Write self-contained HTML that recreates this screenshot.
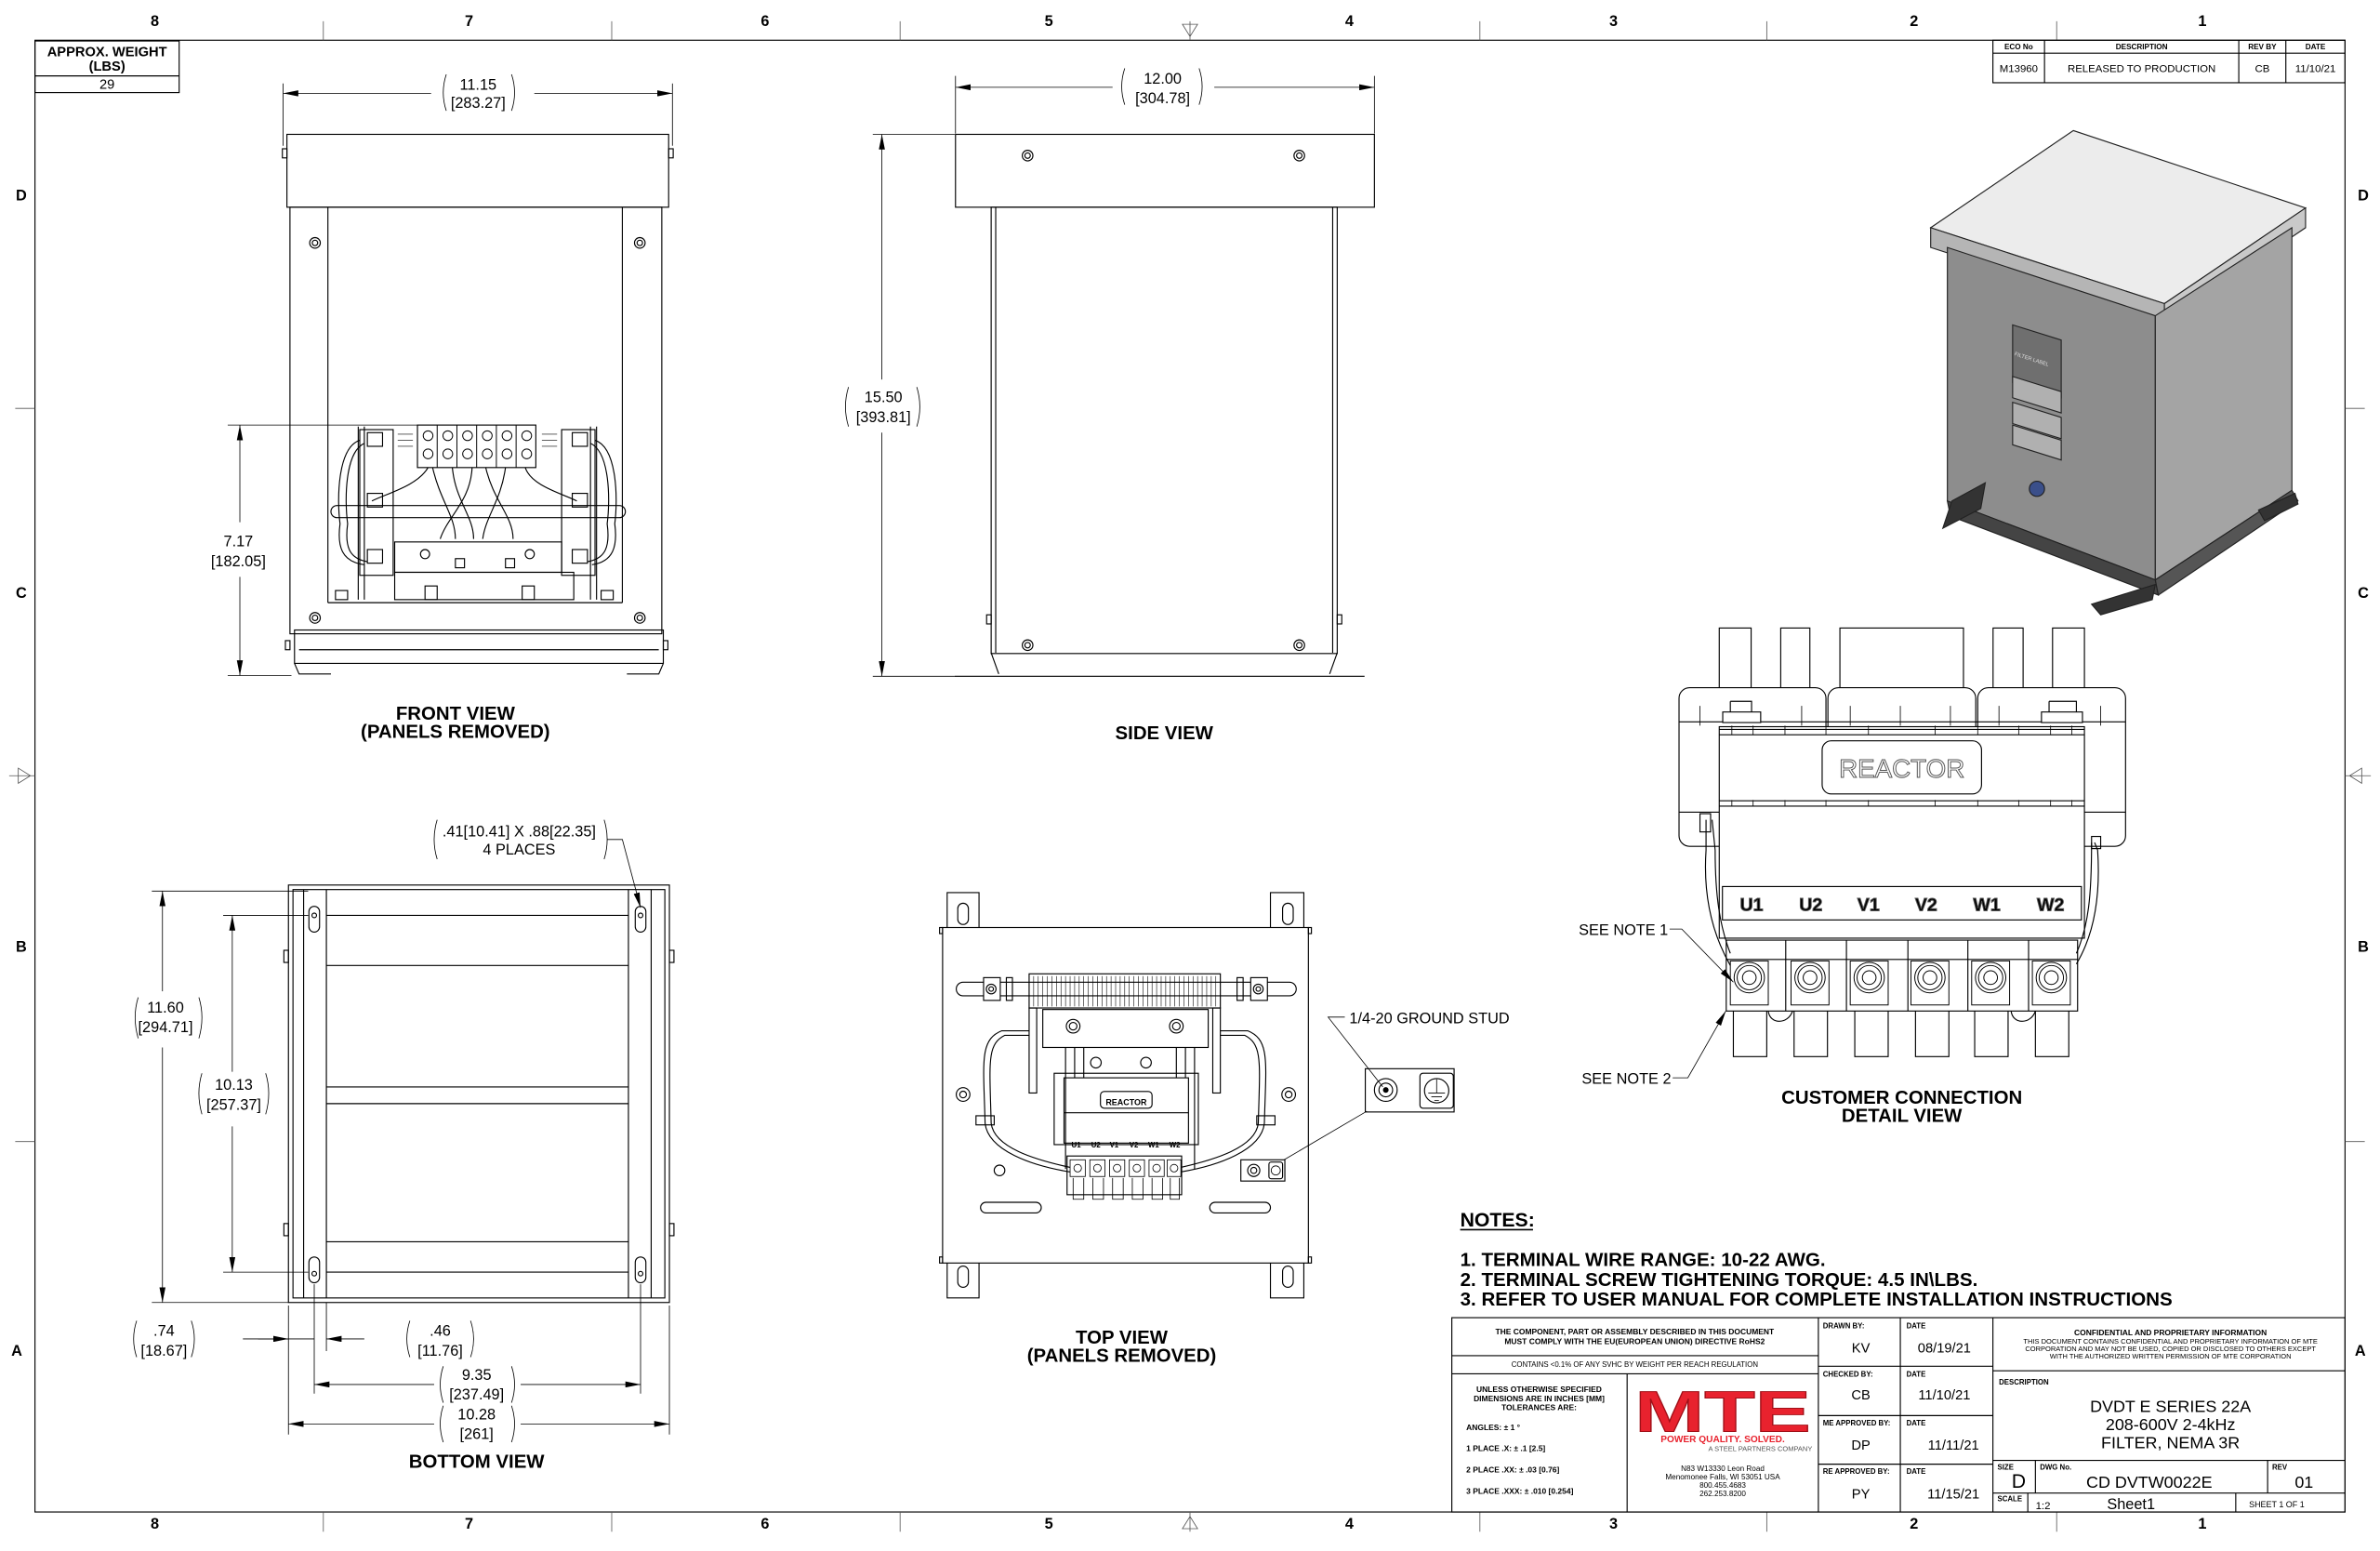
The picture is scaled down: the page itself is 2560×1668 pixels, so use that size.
<!DOCTYPE html>
<html><head><meta charset="utf-8"><style>
html,body{margin:0;padding:0;background:#fff;}
svg{display:block;}
text{font-family:"Liberation Sans",Arial,sans-serif;fill:#000;}
.b{font-weight:bold;}
</style></head><body>
<svg width="2560" height="1668" viewBox="0 0 1568 1021.7" xmlns="http://www.w3.org/2000/svg">
<defs>
<marker id="ar" viewBox="0 0 10 4" refX="10" refY="2" markerWidth="10" markerHeight="4" orient="auto-start-reverse" markerUnits="userSpaceOnUse"><path d="M0,0 L10,2 L0,4z" fill="#000"/></marker>
</defs>
<rect width="1568" height="1021.7" fill="#fff"/>
<g fill="none" stroke="#000" stroke-width="0.7">
<rect x="23" y="26.5" width="1522" height="969.5"/>
<g stroke-width="0.5" stroke="#555">
<line x1="213" y1="14" x2="213" y2="26.5"/><line x1="403" y1="14" x2="403" y2="26.5"/><line x1="593" y1="14" x2="593" y2="26.5"/><line x1="975" y1="14" x2="975" y2="26.5"/><line x1="1164" y1="14" x2="1164" y2="26.5"/><line x1="1355" y1="14" x2="1355" y2="26.5"/>
<line x1="213" y1="996" x2="213" y2="1009"/><line x1="403" y1="996" x2="403" y2="1009"/><line x1="593" y1="996" x2="593" y2="1009"/><line x1="975" y1="996" x2="975" y2="1009"/><line x1="1164" y1="996" x2="1164" y2="1009"/><line x1="1355" y1="996" x2="1355" y2="1009"/>
<line x1="10" y1="269" x2="23" y2="269"/><line x1="10" y1="752" x2="23" y2="752"/><line x1="1545" y1="269" x2="1558" y2="269"/><line x1="1545" y1="752" x2="1558" y2="752"/>
<path d="M779,16 L789,16 L784,24z M784,14 V26"/><path d="M779,1007 L789,1007 L784,999z M784,996 V1009"/>
<path d="M12,506 L12,516 L20,511z M6,511 H23"/><path d="M1556,506 L1556,516 L1548,511z M1545,511 H1562"/>
</g>
<rect x="23" y="27" width="95" height="34"/><line x1="23" y1="50" x2="118" y2="50"/>
<rect x="1313" y="26.5" width="232" height="28"/><line x1="1313" y1="35" x2="1545" y2="35"/>
<line x1="1347" y1="26.5" x2="1347" y2="54.5"/><line x1="1475" y1="26.5" x2="1475" y2="54.5"/><line x1="1506" y1="26.5" x2="1506" y2="54.5"/>

<!-- FRONT VIEW -->
<rect x="189" y="88.5" width="251.5" height="48"/>
<rect x="186" y="98" width="3" height="6"/><rect x="440.5" y="98" width="3" height="6"/>
<rect x="191" y="136.5" width="245" height="281"/>
<line x1="216" y1="136.5" x2="216" y2="397"/><line x1="410" y1="136.5" x2="410" y2="397"/><line x1="216" y1="397" x2="410" y2="397"/>
<circle cx="207.5" cy="160" r="3.5"/><circle cx="207.5" cy="160" r="1.8"/><circle cx="421.5" cy="160" r="3.5"/><circle cx="421.5" cy="160" r="1.8"/>
<circle cx="207.5" cy="407" r="3.5"/><circle cx="207.5" cy="407" r="1.8"/><circle cx="421.5" cy="407" r="3.5"/><circle cx="421.5" cy="407" r="1.8"/>
<rect x="194" y="415" width="243" height="22"/><line x1="197" y1="428" x2="434" y2="428"/>
<path d="M194,437 L197,444 H218 M437,437 L434,444 H413"/>
<rect x="188" y="422" width="3" height="6"/><rect x="437" y="422" width="3" height="6"/>
<rect x="275" y="280" width="78" height="28"/>
<g stroke-width="0.6">
<circle cx="282" cy="287" r="3.2"/><circle cx="295" cy="287" r="3.2"/><circle cx="308" cy="287" r="3.2"/><circle cx="321" cy="287" r="3.2"/><circle cx="334" cy="287" r="3.2"/><circle cx="347" cy="287" r="3.2"/>
<circle cx="282" cy="299" r="3.2"/><circle cx="295" cy="299" r="3.2"/><circle cx="308" cy="299" r="3.2"/><circle cx="321" cy="299" r="3.2"/><circle cx="334" cy="299" r="3.2"/><circle cx="347" cy="299" r="3.2"/>
<line x1="288" y1="280" x2="288" y2="308"/><line x1="301" y1="280" x2="301" y2="308"/><line x1="314" y1="280" x2="314" y2="308"/><line x1="327" y1="280" x2="327" y2="308"/><line x1="340" y1="280" x2="340" y2="308"/>
</g>
<rect x="237" y="283" width="22" height="96"/><rect x="370" y="283" width="22" height="96"/>
<line x1="236" y1="281" x2="236" y2="395"/><line x1="240" y1="281" x2="240" y2="395"/><line x1="389" y1="281" x2="389" y2="395"/><line x1="393" y1="281" x2="393" y2="395"/>
<rect x="242" y="285" width="10" height="9"/><rect x="242" y="325" width="10" height="9"/><rect x="242" y="362" width="10" height="9"/>
<rect x="377" y="285" width="10" height="9"/><rect x="377" y="325" width="10" height="9"/><rect x="377" y="362" width="10" height="9"/>
<g stroke-width="0.4">
<line x1="262" y1="286" x2="272" y2="286"/><line x1="262" y1="290" x2="272" y2="290"/><line x1="262" y1="294" x2="272" y2="294"/><line x1="357" y1="286" x2="367" y2="286"/><line x1="357" y1="290" x2="367" y2="290"/><line x1="357" y1="294" x2="367" y2="294"/>
</g>
<rect x="218" y="333" width="194" height="8" rx="4"/>
<rect x="260" y="357" width="110" height="20"/><rect x="260" y="377" width="118" height="18"/>
<circle cx="280" cy="365" r="3"/><circle cx="349" cy="365" r="3"/>
<rect x="300" y="368" width="6" height="6"/><rect x="333" y="368" width="6" height="6"/>
<rect x="221" y="389" width="8" height="6"/><rect x="396" y="389" width="8" height="6"/>
<rect x="280" y="386" width="8" height="9"/><rect x="344" y="386" width="8" height="9"/>
<path d="M237,290 C222,295 222,330 224,345 C222,360 225,370 240,372"/>
<path d="M240,292 C227,298 227,330 229,345 C227,360 230,368 242,370"/>
<path d="M392,290 C407,295 407,330 405,345 C407,360 404,370 390,372"/>
<path d="M389,292 C402,298 402,330 400,345 C402,360 399,368 387,370"/>
<path d="M285,308 C290,330 300,340 300,355"/><path d="M298,308 C300,330 312,340 312,355"/><path d="M311,308 C310,330 295,340 290,355"/>
<path d="M320,308 C325,330 338,340 338,355"/><path d="M333,308 C330,330 320,340 318,355"/><path d="M346,308 C350,320 370,325 380,330"/>
<path d="M282,308 C275,320 255,325 245,330"/>
<g stroke-width="0.5">
<line x1="186.5" y1="55" x2="186.5" y2="96"/><line x1="443" y1="55" x2="443" y2="96"/>
<line x1="186.5" y1="61.5" x2="284" y2="61.5" marker-start="url(#ar)"/><line x1="352" y1="61.5" x2="443" y2="61.5" marker-end="url(#ar)"/>
<line x1="150" y1="280" x2="275" y2="280"/><line x1="150" y1="445" x2="192" y2="445"/>
<line x1="158" y1="280" x2="158" y2="344" marker-start="url(#ar)"/><line x1="158" y1="380" x2="158" y2="445" marker-end="url(#ar)"/>
</g>

<!-- SIDE VIEW -->
<rect x="629.5" y="88.5" width="276" height="48"/>
<rect x="653" y="136.5" width="228" height="294"/>
<line x1="656" y1="136.5" x2="656" y2="430"/><line x1="878" y1="136.5" x2="878" y2="430"/>
<circle cx="677" cy="102.5" r="3.5"/><circle cx="677" cy="102.5" r="1.8"/><circle cx="856" cy="102.5" r="3.5"/><circle cx="856" cy="102.5" r="1.8"/>
<circle cx="677" cy="425" r="3.5"/><circle cx="677" cy="425" r="1.8"/><circle cx="856" cy="425" r="3.5"/><circle cx="856" cy="425" r="1.8"/>
<rect x="650" y="405" width="3" height="6"/><rect x="881" y="405" width="3" height="6"/>
<path d="M653,430 L658,444 M881,430 L876,444"/>
<line x1="629" y1="445.5" x2="899" y2="445.5"/>
<g stroke-width="0.5">
<line x1="629.5" y1="50" x2="629.5" y2="88"/><line x1="905.5" y1="50" x2="905.5" y2="88"/>
<line x1="629.5" y1="57.5" x2="733" y2="57.5" marker-start="url(#ar)"/><line x1="800" y1="57.5" x2="905.5" y2="57.5" marker-end="url(#ar)"/>
<line x1="575" y1="88.5" x2="629" y2="88.5"/><line x1="575" y1="445.5" x2="629" y2="445.5"/>
<line x1="581" y1="88.5" x2="581" y2="250" marker-start="url(#ar)"/><line x1="581" y1="285" x2="581" y2="445.5" marker-end="url(#ar)"/>
</g>

<!-- BOTTOM VIEW -->
<rect x="190" y="583" width="251" height="275"/>
<rect x="193" y="586" width="245" height="269"/>
<line x1="200" y1="586" x2="200" y2="855"/><line x1="215" y1="586" x2="215" y2="855"/><line x1="414" y1="586" x2="414" y2="855"/><line x1="429" y1="586" x2="429" y2="855"/>
<line x1="215" y1="603" x2="414" y2="603"/><line x1="215" y1="636" x2="414" y2="636"/><line x1="215" y1="716" x2="414" y2="716"/><line x1="215" y1="727" x2="414" y2="727"/><line x1="215" y1="818" x2="414" y2="818"/><line x1="215" y1="838" x2="414" y2="838"/>
<rect x="203.5" y="597" width="7" height="17" rx="3.5"/><rect x="418.5" y="597" width="7" height="17" rx="3.5"/>
<rect x="203.5" y="828" width="7" height="17" rx="3.5"/><rect x="418.5" y="828" width="7" height="17" rx="3.5"/>
<circle cx="207" cy="603" r="1.5"/><circle cx="422" cy="603" r="1.5"/><circle cx="207" cy="839" r="1.5"/><circle cx="422" cy="839" r="1.5"/>
<rect x="187" y="626" width="3" height="8"/><rect x="441" y="626" width="3" height="8"/><rect x="187" y="806" width="3" height="8"/><rect x="441" y="806" width="3" height="8"/>
<g stroke-width="0.5">
<line x1="100" y1="587" x2="203" y2="587"/><line x1="100" y1="858" x2="190" y2="858"/>
<line x1="107" y1="587" x2="107" y2="653" marker-start="url(#ar)"/><line x1="107" y1="690" x2="107" y2="858" marker-end="url(#ar)"/>
<line x1="147" y1="603" x2="203" y2="603"/><line x1="147" y1="838" x2="203" y2="838"/>
<line x1="153" y1="603" x2="153" y2="706" marker-start="url(#ar)"/><line x1="153" y1="742" x2="153" y2="838" marker-end="url(#ar)"/>
<line x1="190" y1="860" x2="190" y2="945"/><line x1="207" y1="846" x2="207" y2="918"/><line x1="215" y1="858" x2="215" y2="890"/><line x1="422" y1="846" x2="422" y2="918"/><line x1="441" y1="860" x2="441" y2="945"/>
<line x1="160" y1="882" x2="190" y2="882" marker-end="url(#ar)"/><line x1="240" y1="882" x2="215" y2="882" marker-end="url(#ar)"/><line x1="170" y1="882" x2="207" y2="882"/>
<line x1="207" y1="912" x2="286" y2="912" marker-start="url(#ar)"/><line x1="343" y1="912" x2="422" y2="912" marker-end="url(#ar)"/>
<line x1="190" y1="938" x2="286" y2="938" marker-start="url(#ar)"/><line x1="343" y1="938" x2="441" y2="938" marker-end="url(#ar)"/>
<path d="M400,553 L410,553 L422,598" marker-end="url(#ar)"/>
</g>
<g stroke-width="0.5">
<path d="M270,870 Q266,882 270,894 M310,870 Q314,882 310,894"/>
<path d="M292,900 Q288,912 292,924 M337,900 Q341,912 337,924"/>
<path d="M292,926 Q288,938 292,950 M337,926 Q341,938 337,950"/>
<path d="M91,657 Q87,670 91,684 M131,657 Q135,670 131,684"/>
<path d="M133,707 Q129,720 133,734 M175,707 Q179,720 175,734"/>
<path d="M90,870 Q86,882 90,894 M126,870 Q130,882 126,894"/>
<path d="M294,49 Q290,61 294,73 M337,49 Q341,61 337,73"/>
<path d="M741,45 Q737,57 741,69 M790,45 Q794,57 790,69"/>
<path d="M559,255 Q555,268 559,281 M604,255 Q608,268 604,281"/>
<path d="M288,540 Q284,553 288,566 M398,540 Q402,553 398,566"/>
</g>

<!-- TOP VIEW -->
<rect x="621" y="611" width="241" height="221"/>
<rect x="619" y="611" width="2" height="4"/><rect x="862" y="611" width="2" height="4"/><rect x="619" y="828" width="2" height="4"/><rect x="862" y="828" width="2" height="4"/>
<path d="M624,611 V588 H645 V611 M837,611 V588 H859 V611 M624,832 V855 H645 V832 M837,832 V855 H859 V832"/>
<rect x="631" y="595" width="7" height="14" rx="3.5"/><rect x="845" y="595" width="7" height="14" rx="3.5"/>
<rect x="631" y="834" width="7" height="14" rx="3.5"/><rect x="845" y="834" width="7" height="14" rx="3.5"/>
<rect x="678" y="641.5" width="126" height="22.5"/>
<g stroke-width="0.35"><path d="M681,643 V663 M684,643 V663 M687,643 V663 M690,643 V663 M693,643 V663 M696,643 V663 M699,643 V663 M702,643 V663 M705,643 V663 M708,643 V663 M711,643 V663 M714,643 V663 M717,643 V663 M720,643 V663 M723,643 V663 M726,643 V663 M729,643 V663 M732,643 V663 M735,643 V663 M738,643 V663 M741,643 V663 M744,643 V663 M747,643 V663 M750,643 V663 M753,643 V663 M756,643 V663 M759,643 V663 M762,643 V663 M765,643 V663 M768,643 V663 M771,643 V663 M774,643 V663 M777,643 V663 M780,643 V663 M783,643 V663 M786,643 V663 M789,643 V663 M792,643 V663 M795,643 V663 M798,643 V663 M801,643 V663"/></g>
<rect x="630" y="647" width="224" height="9" rx="4.5"/>
<rect x="648" y="644" width="11" height="15" fill="#fff"/><circle cx="653" cy="651.5" r="3.2"/><circle cx="653" cy="651.5" r="1.5"/>
<rect x="824" y="644" width="11" height="15" fill="#fff"/><circle cx="829" cy="651.5" r="3.2"/><circle cx="829" cy="651.5" r="1.5"/>
<rect x="663" y="644" width="4" height="15"/><rect x="815" y="644" width="4" height="15"/>
<rect x="687" y="665" width="109" height="25"/>
<rect x="678" y="664" width="5" height="56"/><rect x="799" y="664" width="5" height="56"/>
<circle cx="707" cy="676" r="4.5"/><circle cx="707" cy="676" r="2.5"/><circle cx="775" cy="676" r="4.5"/><circle cx="775" cy="676" r="2.5"/>
<path d="M702,690 V770 M708,690 V710 M714,690 V710 M775,690 V710 M781,690 V710 M787,690 V770"/>
<circle cx="722" cy="700" r="3.5"/><circle cx="755" cy="700" r="3.5"/>
<rect x="694.5" y="707" width="95" height="47"/>
<rect x="701" y="710" width="82" height="43"/>
<rect x="725" y="719" width="34" height="11" rx="2.5"/>
<line x1="701" y1="733" x2="783" y2="733"/>
<rect x="703" y="761.5" width="75.5" height="25.5"/>
<g stroke-width="0.5">
<rect x="705" y="764" width="10" height="11"/><rect x="718" y="764" width="10" height="11"/><rect x="731" y="764" width="10" height="11"/><rect x="744" y="764" width="10" height="11"/><rect x="757" y="764" width="10" height="11"/><rect x="769" y="764" width="9" height="11"/>
<circle cx="710" cy="769.5" r="2.5"/><circle cx="723" cy="769.5" r="2.5"/><circle cx="736" cy="769.5" r="2.5"/><circle cx="749" cy="769.5" r="2.5"/><circle cx="762" cy="769.5" r="2.5"/><circle cx="773.5" cy="769.5" r="2.5"/>
<path d="M707,776 V790 H714 V776 M720,776 V790 H727 V776 M733,776 V790 H740 V776 M746,776 V790 H753 V776 M759,776 V790 H766 V776 M771,776 V790 H777 V776"/>
</g>
<circle cx="634.5" cy="721" r="4.5"/><circle cx="634.5" cy="721" r="2.2"/>
<circle cx="849" cy="721" r="4.5"/><circle cx="849" cy="721" r="2.2"/>
<circle cx="658.5" cy="771" r="3.5"/>
<rect x="646" y="792" width="40" height="7" rx="3.5"/><rect x="797" y="792" width="40" height="7" rx="3.5"/>
<path d="M678,679 L660,679 C645,685 648,700 649,740 C651,758 680,768 705,772"/>
<path d="M678,682 L662,682 C650,688 652,700 653,740 C655,756 682,764 705,769"/>
<path d="M804,679 L822,679 C837,685 834,700 833,740 C831,758 802,768 778,772"/>
<path d="M804,682 L820,682 C832,688 830,700 829,740 C827,756 800,764 778,769"/>
<rect x="643" y="735" width="12" height="6"/><rect x="828" y="735" width="12" height="6"/>
<rect x="899.5" y="704" width="58.5" height="28.5"/>
<circle cx="913" cy="718" r="7.5"/><circle cx="913" cy="718" r="4.5"/><circle cx="913" cy="718" r="1.5" fill="#000"/>
<rect x="935.5" y="707" width="22" height="23" rx="2"/><circle cx="946.5" cy="718.5" r="8"/>
<path d="M946.5,711 V720 M941,720 H952 M943,722.5 H950 M945,725 H948" stroke-width="0.5"/>
<rect x="817.5" y="764" width="29" height="14"/><circle cx="826" cy="771" r="4"/><circle cx="826" cy="771" r="2"/><rect x="836" y="765.5" width="9" height="11" rx="1.5"/><circle cx="840.5" cy="771" r="3" stroke-width="0.5"/>
<g stroke-width="0.5"><path d="M886,670 H875 L911,716"/><path d="M900.5,732 L846,764"/></g>

<!-- CUSTOMER CONNECTION -->
<rect x="1132.7" y="413.7" width="21" height="41"/><rect x="1173.2" y="413.7" width="19.2" height="41"/><rect x="1212.2" y="413.7" width="81.4" height="41"/><rect x="1313.1" y="413.7" width="19.8" height="41"/><rect x="1352.3" y="413.7" width="21" height="41"/>
<rect x="1106.2" y="453" width="96.8" height="104.5" rx="7" fill="#fff"/><rect x="1204.3" y="453" width="97.4" height="104.5" rx="7" fill="#fff"/><rect x="1303" y="453" width="97.4" height="104.5" rx="7" fill="#fff"/>
<line x1="1106.2" y1="475.5" x2="1400.4" y2="475.5"/><line x1="1106.2" y1="535" x2="1400.4" y2="535"/>
<g stroke-width="0.5"><path d="M1120,465 V478 M1187,465 V478 M1219,465 V478 M1252,465 V478 M1285,465 V478 M1317,465 V478 M1384,465 V478"/></g>
<rect x="1132.7" y="478.7" width="240.6" height="139.3" fill="#fff"/>
<line x1="1132.7" y1="480.5" x2="1373.3" y2="480.5"/><line x1="1132.7" y1="484" x2="1373.3" y2="484"/><line x1="1132.7" y1="527.5" x2="1373.3" y2="527.5"/><line x1="1132.7" y1="531" x2="1373.3" y2="531"/>
<g stroke-width="0.5"><path d="M1141,478 V484 M1155,478 V484 M1176,478 V484 M1203,478 V484 M1231,478 V484 M1275,478 V484 M1303,478 V484 M1330,478 V484 M1351,478 V484 M1365,478 V484 M1141,527 V531 M1155,527 V531 M1176,527 V531 M1203,527 V531 M1231,527 V531 M1275,527 V531 M1303,527 V531 M1330,527 V531 M1351,527 V531 M1365,527 V531"/></g>
<path d="M1138,469 H1156 M1140,462 H1154 V469 M1140,462 V469 M1135,469 H1160 V476 H1135z" fill="#fff"/>
<path d="M1347,469 H1371 M1350,462 H1368 V469 M1350,462 V469 M1345,469 H1372 V476 H1345z" fill="#fff"/>
<rect x="1200.5" y="488" width="105" height="35" rx="6"/>
<rect x="1134.8" y="584" width="236.5" height="22"/>
<rect x="1137.3" y="619.3" width="231.5" height="46.7"/>
<path d="M1176.5,619.3 V666 M1216.5,619.3 V666 M1257,619.3 V666 M1296.5,619.3 V666 M1336.5,619.3 V666"/>
<line x1="1137.3" y1="632" x2="1368.8" y2="632"/>
<g stroke-width="0.6">
<rect x="1140" y="633" width="25" height="29"/><rect x="1180" y="633" width="25" height="29"/><rect x="1219" y="633" width="25" height="29"/><rect x="1259" y="633" width="25" height="29"/><rect x="1299" y="633" width="25" height="29"/><rect x="1339" y="633" width="25" height="29"/>
<circle cx="1152.5" cy="644" r="10"/><circle cx="1152.5" cy="644" r="8"/><circle cx="1152.5" cy="644" r="4.5"/>
<circle cx="1192.5" cy="644" r="10"/><circle cx="1192.5" cy="644" r="8"/><circle cx="1192.5" cy="644" r="4.5"/>
<circle cx="1231.5" cy="644" r="10"/><circle cx="1231.5" cy="644" r="8"/><circle cx="1231.5" cy="644" r="4.5"/>
<circle cx="1271.5" cy="644" r="10"/><circle cx="1271.5" cy="644" r="8"/><circle cx="1271.5" cy="644" r="4.5"/>
<circle cx="1311.5" cy="644" r="10"/><circle cx="1311.5" cy="644" r="8"/><circle cx="1311.5" cy="644" r="4.5"/>
<circle cx="1351.5" cy="644" r="10"/><circle cx="1351.5" cy="644" r="8"/><circle cx="1351.5" cy="644" r="4.5"/>
</g>
<path d="M1142,666 V696 H1164 V666 M1182,666 V696 H1204 V666 M1222,666 V696 H1244 V666 M1262,666 V696 H1284 V666 M1301,666 V696 H1323 V666 M1341,666 V696 H1363 V666"/>
<path d="M1165,666 C1166,675 1178,675 1181,666 M1325,666 C1326,675 1338,675 1341,666"/>
<path d="M1124,540 L1124,560 C1122,590 1128,615 1140,636"/><path d="M1128,540 L1130,560 C1130,590 1133,610 1140,628"/>
<path d="M1380,555 L1382,560 C1384,590 1380,615 1368,635"/><path d="M1378,555 C1378,590 1376,610 1368,628"/>
<rect x="1120" y="536" width="7" height="12"/><rect x="1378" y="551" width="6" height="8"/>
<g stroke-width="0.5">
<path d="M1100,612 H1108 L1142,647" marker-end="url(#ar)"/>
<path d="M1102,710 H1112 L1137,666" marker-end="url(#ar)"/>
</g>
</g>

<!-- isometric image -->
<g stroke="#222" stroke-width="0.7">
<polygon points="1272,150 1366,86 1519,137 1426,200" fill="#ececec"/>
<polygon points="1272,150 1426,200 1426,213 1272,163" fill="#b5b5b5"/>
<polygon points="1426,200 1519,137 1519,150 1426,213" fill="#c9c9c9"/>
<polygon points="1283,163 1420,208 1420,382 1283,330" fill="#8d8d8d"/>
<polygon points="1420,208 1510,150 1510,323 1420,382" fill="#a4a4a4"/>
<polygon points="1326,214 1358,224 1358,262 1326,252" fill="#6f6f6f"/>
<polygon points="1326,248 1358,258 1358,272 1326,262" fill="#b0b0b0"/>
<polygon points="1326,265 1358,275 1358,289 1326,279" fill="#b0b0b0"/>
<polygon points="1326,280 1358,290 1358,303 1326,293" fill="#b0b0b0"/>
<circle cx="1342" cy="322" r="5" fill="#3a4f8a"/>
<polygon points="1283,330 1420,382 1422,392 1285,340" fill="#444"/>
<polygon points="1420,382 1510,323 1514,330 1422,392" fill="#555"/>
<polygon points="1286,330 1308,318 1305,335 1280,348" fill="#333"/>
<polygon points="1378,398 1420,385 1418,395 1384,405" fill="#333"/>
<polygon points="1488,336 1512,325 1514,332 1492,343" fill="#333"/>
</g>

<!-- title block -->
<g fill="none" stroke="#000" stroke-width="0.7">
<rect x="956.5" y="868" width="588.5" height="128"/>
<line x1="956.5" y1="893" x2="1198" y2="893"/><line x1="956.5" y1="905" x2="1198" y2="905"/>
<line x1="1072" y1="905" x2="1072" y2="996"/>
<line x1="1198" y1="868" x2="1198" y2="996"/><line x1="1252" y1="868" x2="1252" y2="996"/><line x1="1313" y1="868" x2="1313" y2="996"/>
<line x1="1198" y1="900" x2="1313" y2="900"/><line x1="1198" y1="932.5" x2="1313" y2="932.5"/><line x1="1198" y1="964.5" x2="1313" y2="964.5"/>
<line x1="1313" y1="903" x2="1545" y2="903"/><line x1="1313" y1="962" x2="1545" y2="962"/><line x1="1313" y1="983.5" x2="1545" y2="983.5"/>
<line x1="1341" y1="962" x2="1341" y2="983.5"/><line x1="1494" y1="962" x2="1494" y2="983.5"/>
<line x1="1336" y1="983.5" x2="1336" y2="996"/><line x1="1473" y1="983.5" x2="1473" y2="996"/>
</g>

<!-- TEXT -->
<g font-size="10">
<text x="102" y="17" text-anchor="middle" class="b">8</text><text x="309" y="17" text-anchor="middle" class="b">7</text><text x="504" y="17" text-anchor="middle" class="b">6</text><text x="691" y="17" text-anchor="middle" class="b">5</text><text x="889" y="17" text-anchor="middle" class="b">4</text><text x="1063" y="17" text-anchor="middle" class="b">3</text><text x="1261" y="17" text-anchor="middle" class="b">2</text><text x="1451" y="17" text-anchor="middle" class="b">1</text>
<text x="102" y="1007" text-anchor="middle" class="b">8</text><text x="309" y="1007" text-anchor="middle" class="b">7</text><text x="504" y="1007" text-anchor="middle" class="b">6</text><text x="691" y="1007" text-anchor="middle" class="b">5</text><text x="889" y="1007" text-anchor="middle" class="b">4</text><text x="1063" y="1007" text-anchor="middle" class="b">3</text><text x="1261" y="1007" text-anchor="middle" class="b">2</text><text x="1451" y="1007" text-anchor="middle" class="b">1</text>
<text x="14" y="132" text-anchor="middle" class="b">D</text><text x="14" y="394" text-anchor="middle" class="b">C</text><text x="14" y="627" text-anchor="middle" class="b">B</text><text x="11" y="893" text-anchor="middle" class="b">A</text>
<text x="1557" y="132" text-anchor="middle" class="b">D</text><text x="1557" y="394" text-anchor="middle" class="b">C</text><text x="1557" y="627" text-anchor="middle" class="b">B</text><text x="1555" y="893" text-anchor="middle" class="b">A</text>
</g>
<text x="70.5" y="37" font-size="9" text-anchor="middle" class="b">APPROX. WEIGHT</text>
<text x="70.5" y="46.5" font-size="9" text-anchor="middle" class="b">(LBS)</text>
<text x="70.5" y="58.5" font-size="9" text-anchor="middle">29</text>
<g font-size="5" text-anchor="middle">
<text x="1330" y="32.5" class="b">ECO No</text><text x="1411" y="32.5" class="b">DESCRIPTION</text><text x="1490.5" y="32.5" class="b">REV BY</text><text x="1525.5" y="32.5" class="b">DATE</text>
</g>
<g font-size="7" text-anchor="middle">
<text x="1330" y="47.5">M13960</text><text x="1411" y="47.5">RELEASED TO PRODUCTION</text><text x="1490.5" y="47.5">CB</text><text x="1525.5" y="47.5">11/10/21</text>
</g>
<g font-size="10" text-anchor="middle">
<text x="315" y="59">11.15</text><text x="315" y="71">[283.27]</text>
<text x="157" y="360">7.17</text><text x="157" y="373">[182.05]</text>
<text x="766" y="55">12.00</text><text x="766" y="68">[304.78]</text>
<text x="582" y="265">15.50</text><text x="582" y="278">[393.81]</text>
<text x="109" y="667">11.60</text><text x="109" y="680">[294.71]</text>
<text x="154" y="718">10.13</text><text x="154" y="731">[257.37]</text>
<text x="108" y="880">.74</text><text x="108" y="893">[18.67]</text>
<text x="290" y="880">.46</text><text x="290" y="893">[11.76]</text>
<text x="314" y="909">9.35</text><text x="314" y="922">[237.49]</text>
<text x="314" y="935">10.28</text><text x="314" y="948">[261]</text>
<text x="342" y="551">.41[10.41] X .88[22.35]</text><text x="342" y="563">4 PLACES</text>
</g>
<g font-size="12.5" class="b" text-anchor="middle">
<text x="300" y="474">FRONT VIEW</text><text x="300" y="486">(PANELS REMOVED)</text>
<text x="767" y="487">SIDE VIEW</text>
<text x="314" y="967">BOTTOM VIEW</text>
<text x="739" y="885">TOP VIEW</text><text x="739" y="897">(PANELS REMOVED)</text>
<text x="1253" y="727">CUSTOMER CONNECTION</text><text x="1253" y="739">DETAIL VIEW</text>
</g>
<text x="889" y="674" font-size="10">1/4-20 GROUND STUD</text>
<text x="1099" y="616" font-size="10" text-anchor="end">SEE NOTE 1</text>
<text x="1101" y="714" font-size="10" text-anchor="end">SEE NOTE 2</text>
<text x="742" y="728" font-size="5.5" class="b" text-anchor="middle">REACTOR</text>
<g font-size="4.8" class="b" text-anchor="middle"><text x="709" y="756">U1</text><text x="722" y="756">U2</text><text x="734" y="756">V1</text><text x="747" y="756">V2</text><text x="760" y="756">W1</text><text x="774" y="756">W2</text></g>
<text x="1253" y="512" font-size="17" text-anchor="middle" stroke="#555" stroke-width="0.6" style="fill:#fff">REACTOR</text>
<g font-size="12" text-anchor="middle" style="fill:#fff" stroke="#555" stroke-width="0.6" class="b"><text x="1154" y="600">U1</text><text x="1193" y="600">U2</text><text x="1231" y="600">V1</text><text x="1269" y="600">V2</text><text x="1309" y="600">W1</text><text x="1351" y="600">W2</text></g>
<text x="1327" y="234" font-size="3.5" transform="rotate(18 1327 234)" style="fill:#ddd">FILTER LABEL</text>
<text x="962" y="808" font-size="13" class="b">NOTES:</text>
<line x1="962" y1="810" x2="1010" y2="810" stroke="#000" stroke-width="1"/>
<g font-size="12.6" class="b">
<text x="962" y="834">1.  TERMINAL WIRE RANGE: 10-22 AWG.</text>
<text x="962" y="847">2.  TERMINAL SCREW TIGHTENING TORQUE: 4.5 IN\LBS.</text>
<text x="962" y="860">3.  REFER TO USER MANUAL FOR COMPLETE INSTALLATION INSTRUCTIONS</text>
</g>
<g font-size="5.2" class="b" text-anchor="middle">
<text x="1077" y="879">THE COMPONENT, PART OR ASSEMBLY DESCRIBED IN THIS DOCUMENT</text>
<text x="1077" y="885.5">MUST COMPLY WITH THE EU(EUROPEAN UNION) DIRECTIVE RoHS2</text>
<text x="1014" y="917">UNLESS OTHERWISE SPECIFIED</text>
<text x="1014" y="923">DIMENSIONS ARE IN INCHES [MM]</text>
<text x="1014" y="929">TOLERANCES ARE:</text>
<text x="1430" y="879.5">CONFIDENTIAL AND PROPRIETARY INFORMATION</text>
</g>
<text x="1077" y="900.5" font-size="4.8" text-anchor="middle">CONTAINS &lt;0.1% OF ANY SVHC BY WEIGHT PER REACH REGULATION</text>
<g font-size="5.2" class="b">
<text x="966" y="942">ANGLES: ± 1 °</text>
<text x="966" y="956">1 PLACE .X: ± .1 [2.5]</text>
<text x="966" y="970">2 PLACE .XX: ± .03 [0.76]</text>
<text x="966" y="984">3 PLACE .XXX: ± .010 [0.254]</text>
</g>
<g font-size="4.6" text-anchor="middle">
<text x="1430" y="885">THIS DOCUMENT CONTAINS CONFIDENTIAL AND PROPRIETARY INFORMATION OF MTE</text>
<text x="1430" y="890">CORPORATION AND MAY NOT BE USED, COPIED OR DISCLOSED TO OTHERS EXCEPT</text>
<text x="1430" y="895">WITH THE AUTHORIZED WRITTEN PERMISSION OF MTE CORPORATION</text>
</g>
<text x="1135" y="943" font-size="38" class="b" text-anchor="middle" style="fill:#e8222e" stroke="#a01018" stroke-width="0.6" textLength="116" lengthAdjust="spacingAndGlyphs">MTE</text>
<text x="1135" y="950" font-size="6.2" class="b" text-anchor="middle" style="fill:#e8222e">POWER QUALITY. SOLVED.</text>
<text x="1194" y="956" font-size="4.6" text-anchor="end" style="fill:#555">A STEEL PARTNERS COMPANY</text>
<g font-size="5" text-anchor="middle">
<text x="1135" y="969">N83 W13330 Leon Road</text><text x="1135" y="974.5">Menomonee Falls, WI 53051 USA</text><text x="1135" y="980">800.455.4683</text><text x="1135" y="985.5">262.253.8200</text>
</g>
<g font-size="4.8" class="b">
<text x="1201" y="875">DRAWN BY:</text><text x="1256" y="875">DATE</text>
<text x="1201" y="907">CHECKED BY:</text><text x="1256" y="907">DATE</text>
<text x="1201" y="939">ME APPROVED BY:</text><text x="1256" y="939">DATE</text>
<text x="1201" y="971">RE APPROVED BY:</text><text x="1256" y="971">DATE</text>
<text x="1317" y="912">DESCRIPTION</text>
<text x="1316" y="968">SIZE</text><text x="1344" y="968">DWG No.</text><text x="1497" y="968">REV</text>
<text x="1316" y="989">SCALE</text>
</g>
<g font-size="9" text-anchor="middle">
<text x="1226" y="891">KV</text><text x="1281" y="891">08/19/21</text>
<text x="1226" y="922">CB</text><text x="1281" y="922">11/10/21</text>
<text x="1226" y="955">DP</text><text x="1287" y="955">11/11/21</text>
<text x="1226" y="987">PY</text><text x="1287" y="987">11/15/21</text>
</g>
<g font-size="11" text-anchor="middle">
<text x="1430" y="930">DVDT E SERIES 22A</text>
<text x="1430" y="942">208-600V 2-4kHz</text>
<text x="1430" y="954">FILTER, NEMA 3R</text>
<text x="1330" y="980" font-size="13">D</text>
<text x="1416" y="980">CD DVTW0022E</text>
<text x="1518" y="980">01</text>
<text x="1404" y="994" font-size="10">Sheet1</text>
</g>
<text x="1346" y="994" font-size="7" text-anchor="middle">1:2</text>
<text x="1500" y="993" font-size="5.5" text-anchor="middle">SHEET 1  OF 1</text>
</svg>
</body></html>
